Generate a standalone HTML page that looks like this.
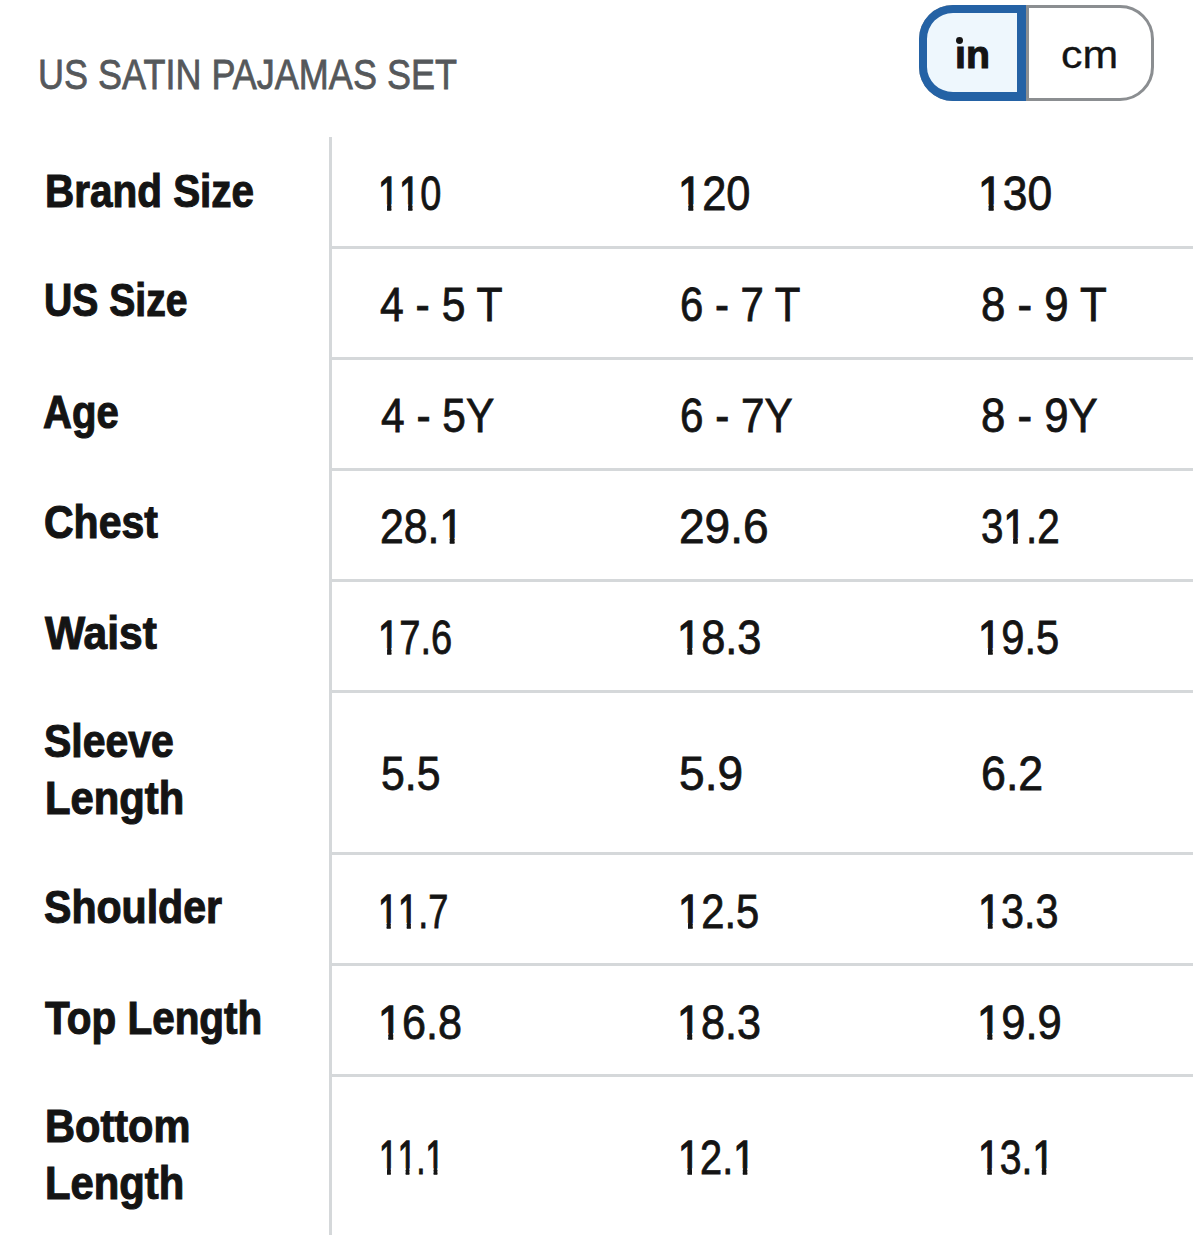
<!DOCTYPE html><html><head><meta charset="utf-8"><title>US Satin Pajamas Set</title><style>
*{margin:0;padding:0;box-sizing:border-box}
html,body{width:1193px;height:1247px;background:#fff;overflow:hidden}
body{position:relative;font-family:"Liberation Sans",sans-serif;color:#141414}
.t{position:absolute;white-space:nowrap;transform-origin:0 0}
.r{font-weight:400;-webkit-text-stroke:0.8px #141414}
.b{font-weight:700;-webkit-text-stroke:1.1px #141414}
.ti{font-weight:400;color:#55585b;-webkit-text-stroke:0.8px #55585b}
.o{display:inline-block;-webkit-text-stroke:1.3px #141414;clip-path:polygon(0 0,100% 0,100% 0.735em,0.352em 0.735em,0.352em 100%,0.239em 100%,0.239em 0.735em,0 0.735em)}
.dot{position:absolute;left:956.2px;top:36.9px;width:7.2px;height:7px;border-radius:50%;background:#141414}
.sep{position:absolute;left:1026px;top:5px;width:3px;height:96px;background:#8b8e91}
.vl{position:absolute;left:329px;top:137px;width:3px;height:1098px;background:#d5d8da}
.hl{position:absolute;left:332px;width:861px;height:3px;background:#d5d8da}
.tog{position:absolute;left:919px;top:5px;width:235px;height:96px;border:3px solid #8b8e91;border-radius:34px;background:#fff}
.sel{position:absolute;left:919px;top:5px;width:107px;height:96px;border:8px solid #2462a5;border-right-width:9px;border-top-width:8.5px;border-bottom-width:9px;border-radius:34px 0 0 34px;background:#eef7fd}
</style></head><body>
<div class="tog"></div><div class="sep"></div><div class="sel"></div><div class="dot"></div>
<div class="vl"></div>
<div class="hl" style="top:246px"></div>
<div class="hl" style="top:357px"></div>
<div class="hl" style="top:468px"></div>
<div class="hl" style="top:579px"></div>
<div class="hl" style="top:690px"></div>
<div class="hl" style="top:852px"></div>
<div class="hl" style="top:963px"></div>
<div class="hl" style="top:1074px"></div>
<div class="t ti" style="left:38.19px;top:53.23px;font-size:42.73px;line-height:42.73px;transform:scaleX(0.8432)">US SATIN PAJAMAS SET</div>
<div class="t b" style="left:45.02px;top:169.29px;font-size:45.40px;line-height:45.40px;transform:scaleX(0.8913)">Brand Size</div>
<div class="t b" style="left:43.87px;top:278.49px;font-size:45.40px;line-height:45.40px;transform:scaleX(0.8621)">US Size</div>
<div class="t b" style="left:43.43px;top:389.59px;font-size:45.40px;line-height:45.40px;transform:scaleX(0.8833)">Age</div>
<div class="t b" style="left:44.40px;top:500.44px;font-size:45.40px;line-height:45.40px;transform:scaleX(0.9033)">Chest</div>
<div class="t b" style="left:45.00px;top:611.49px;font-size:45.40px;line-height:45.40px;transform:scaleX(0.9370)">Waist</div>
<div class="t b" style="left:44.40px;top:719.29px;font-size:45.40px;line-height:45.40px;transform:scaleX(0.9029)">Sleeve</div>
<div class="t b" style="left:44.95px;top:776.34px;font-size:45.40px;line-height:45.40px;transform:scaleX(0.9205)">Length</div>
<div class="t b" style="left:44.49px;top:884.69px;font-size:45.40px;line-height:45.40px;transform:scaleX(0.9051)">Shoulder</div>
<div class="t b" style="left:45.00px;top:995.79px;font-size:45.40px;line-height:45.40px;transform:scaleX(0.8917)">Top Length</div>
<div class="t b" style="left:44.97px;top:1103.79px;font-size:45.40px;line-height:45.40px;transform:scaleX(0.9156)">Bottom</div>
<div class="t b" style="left:44.95px;top:1160.74px;font-size:45.40px;line-height:45.40px;transform:scaleX(0.9205)">Length</div>
<div class="t r" style="left:378.16px;top:168.88px;font-size:48.20px;line-height:48.20px;transform:scaleX(0.7874)"><span class="o">1</span><span class="o">1</span>0</div>
<div class="t r" style="left:677.70px;top:168.88px;font-size:48.20px;line-height:48.20px;transform:scaleX(0.9002)"><span class="o">1</span>20</div>
<div class="t r" style="left:977.61px;top:168.88px;font-size:48.20px;line-height:48.20px;transform:scaleX(0.9216)"><span class="o">1</span>30</div>
<div class="t r" style="left:380.42px;top:280.03px;font-size:48.20px;line-height:48.20px;transform:scaleX(0.8854)">4 - 5 T</div>
<div class="t r" style="left:680.07px;top:280.03px;font-size:48.20px;line-height:48.20px;transform:scaleX(0.8705)">6 - 7 T</div>
<div class="t r" style="left:980.68px;top:280.03px;font-size:48.20px;line-height:48.20px;transform:scaleX(0.9089)">8 - 9 T</div>
<div class="t r" style="left:381.02px;top:390.98px;font-size:48.20px;line-height:48.20px;transform:scaleX(0.8811)">4 - 5Y</div>
<div class="t r" style="left:680.05px;top:390.98px;font-size:48.20px;line-height:48.20px;transform:scaleX(0.8762)">6 - 7Y</div>
<div class="t r" style="left:980.68px;top:390.98px;font-size:48.20px;line-height:48.20px;transform:scaleX(0.9080)">8 - 9Y</div>
<div class="t r" style="left:380.03px;top:502.33px;font-size:48.20px;line-height:48.20px;transform:scaleX(0.8878)">28.<span class="o">1</span></div>
<div class="t r" style="left:678.88px;top:502.33px;font-size:48.20px;line-height:48.20px;transform:scaleX(0.9556)">29.6</div>
<div class="t r" style="left:981.07px;top:502.33px;font-size:48.20px;line-height:48.20px;transform:scaleX(0.8387)">3<span class="o">1</span>.2</div>
<div class="t r" style="left:378.47px;top:612.63px;font-size:48.20px;line-height:48.20px;transform:scaleX(0.7907)"><span class="o">1</span>7.6</div>
<div class="t r" style="left:677.00px;top:612.63px;font-size:48.20px;line-height:48.20px;transform:scaleX(0.9000)"><span class="o">1</span>8.3</div>
<div class="t r" style="left:978.14px;top:612.63px;font-size:48.20px;line-height:48.20px;transform:scaleX(0.8661)"><span class="o">1</span>9.5</div>
<div class="t r" style="left:381.42px;top:749.33px;font-size:48.20px;line-height:48.20px;transform:scaleX(0.8878)">5.5</div>
<div class="t r" style="left:678.92px;top:749.33px;font-size:48.20px;line-height:48.20px;transform:scaleX(0.9565)">5.9</div>
<div class="t r" style="left:980.53px;top:749.33px;font-size:48.20px;line-height:48.20px;transform:scaleX(0.9287)">6.2</div>
<div class="t r" style="left:378.24px;top:887.23px;font-size:48.20px;line-height:48.20px;transform:scaleX(0.7497)"><span class="o">1</span><span class="o">1</span>.7</div>
<div class="t r" style="left:678.14px;top:887.23px;font-size:48.20px;line-height:48.20px;transform:scaleX(0.8660)"><span class="o">1</span>2.5</div>
<div class="t r" style="left:978.18px;top:887.23px;font-size:48.20px;line-height:48.20px;transform:scaleX(0.8570)"><span class="o">1</span>3.3</div>
<div class="t r" style="left:377.51px;top:997.58px;font-size:48.20px;line-height:48.20px;transform:scaleX(0.8955)"><span class="o">1</span>6.8</div>
<div class="t r" style="left:677.02px;top:997.58px;font-size:48.20px;line-height:48.20px;transform:scaleX(0.8955)"><span class="o">1</span>8.3</div>
<div class="t r" style="left:976.98px;top:997.58px;font-size:48.20px;line-height:48.20px;transform:scaleX(0.9047)"><span class="o">1</span>9.9</div>
<div class="t r" style="left:378.53px;top:1132.83px;font-size:48.20px;line-height:48.20px;transform:scaleX(0.6952)"><span class="o">1</span><span class="o">1</span>.<span class="o">1</span></div>
<div class="t r" style="left:678.33px;top:1132.83px;font-size:48.20px;line-height:48.20px;transform:scaleX(0.8250)"><span class="o">1</span>2.<span class="o">1</span></div>
<div class="t r" style="left:978.38px;top:1132.83px;font-size:48.20px;line-height:48.20px;transform:scaleX(0.8127)"><span class="o">1</span>3.<span class="o">1</span></div>
<div class="t b" style="left:954.59px;top:34.99px;font-size:39.00px;line-height:39.00px;transform:scaleX(1.0048);-webkit-text-stroke:1.1px #141414">ın</div>
<div class="t r" style="left:1060.93px;top:34.99px;font-size:39.00px;line-height:39.00px;transform:scaleX(1.0972);-webkit-text-stroke:0.3px #141414">cm</div>
</body></html>
